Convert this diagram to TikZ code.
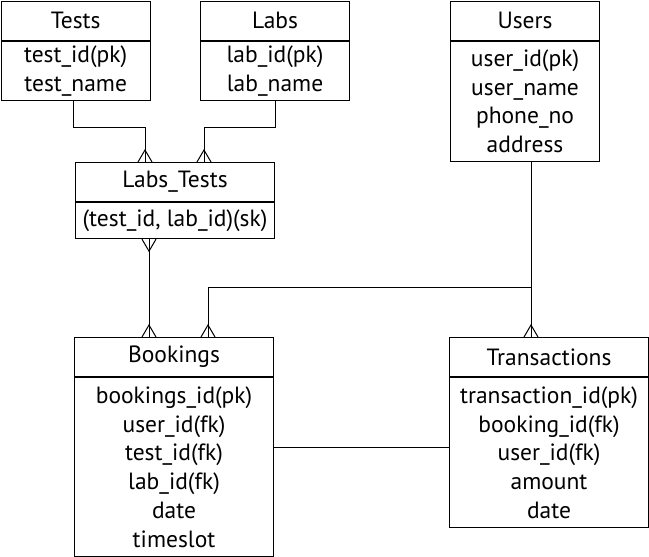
\documentclass[tikz,border=0pt]{standalone}
\usepackage{fontspec}
\setmainfont{PT Sans}
\usetikzlibrary{calc}
\tikzset{
  ent/.style={draw, line width=1.1pt, anchor=north west, inner sep=0pt, align=center,
    font=\fontsize{23.5}{28.8}\selectfont},
  conn/.style={line width=1pt},
  crowtop/.pic={\draw[conn] (-7,0) -- (0,-12) -- (7,0); \draw[conn] (0,-12) -- (0,0);},
  crowbot/.pic={\draw[conn] (-7,0) -- (0,12) -- (7,0); \draw[conn] (0,12) -- (0,0);}
}
\begin{document}
\begin{tikzpicture}[x=1pt,y=-1pt]
\useasboundingbox (0,0) rectangle (649,557);
% Tests
\node[ent, minimum width=149pt, minimum height=39pt] (tests) at (0.6,0.6) {Tests};
\node[ent, minimum width=149pt, minimum height=59pt] (testsb) at (tests.south west) {test\_id(pk)\\test\_name};
% Labs
\node[ent, minimum width=149pt, minimum height=39pt] (labs) at (200,0.6) {Labs};
\node[ent, minimum width=149pt, minimum height=59pt] (labsb) at (labs.south west) {lab\_id(pk)\\lab\_name};
% Users
\node[ent, minimum width=149pt, minimum height=39pt] (users) at (450,0.6) {Users};
\node[ent, minimum width=149pt, minimum height=120pt] (usersb) at (users.south west) {user\_id(pk)\\user\_name\\phone\_no\\address};
% Labs_Tests
\node[ent, minimum width=199pt, minimum height=39pt] (lt) at (75,162) {Labs\_Tests};
\node[ent, minimum width=199pt, minimum height=36pt] (ltb) at (lt.south west) {(test\_id, lab\_id)(sk)};
% Bookings
\node[ent, minimum width=199pt, minimum height=39pt] (bk) at (74,337) {Bookings};
\node[ent, minimum width=199pt, minimum height=179pt] (bkb) at (bk.south west) {bookings\_id(pk)\\user\_id(fk)\\test\_id(fk)\\lab\_id(fk)\\date\\timeslot};
% Transactions
\node[ent, minimum width=199pt, minimum height=39pt] (tr) at (449,337) {Transactions};
\node[ent, minimum width=199pt, minimum height=150pt] (trb) at (tr.south west) {transaction\_id(pk)\\booking\_id(fk)\\user\_id(fk)\\amount\\date};
% anchor coordinates
\coordinate (ltA) at ($(lt.north west)+(70,0)$);
\coordinate (ltB) at ($(lt.north west)+(129,0)$);
\coordinate (ltC) at ($(ltb.south west)+(74,0)$);
\coordinate (bkA) at ($(bk.north west)+(75,0)$);
\coordinate (bkB) at ($(bk.north west)+(134,0)$);
\coordinate (trA) at ($(tr.north west)+(82,0)$);
% connectors
\draw[conn] ($(testsb.south west)+(73,0)$) -- ++(0,27) -| (ltA);
\draw[conn] ($(labsb.south west)+(75,0)$) -- ++(0,27) -| (ltB);
\draw[conn] (ltC) -- (bkA);
\draw[conn] (usersb.south -| trA) -- (trA);
\draw[conn] (bkB) |- ($(trA)+(0,-50)$);
\draw[conn] (bkb.east |- 0,447) -- (trb.west |- 0,447);
\pic at (ltA) {crowtop};
\pic at (ltB) {crowtop};
\pic at (ltC) {crowbot};
\pic at (bkA) {crowtop};
\pic at (bkB) {crowtop};
\pic at (trA) {crowtop};
\end{tikzpicture}
\end{document}
